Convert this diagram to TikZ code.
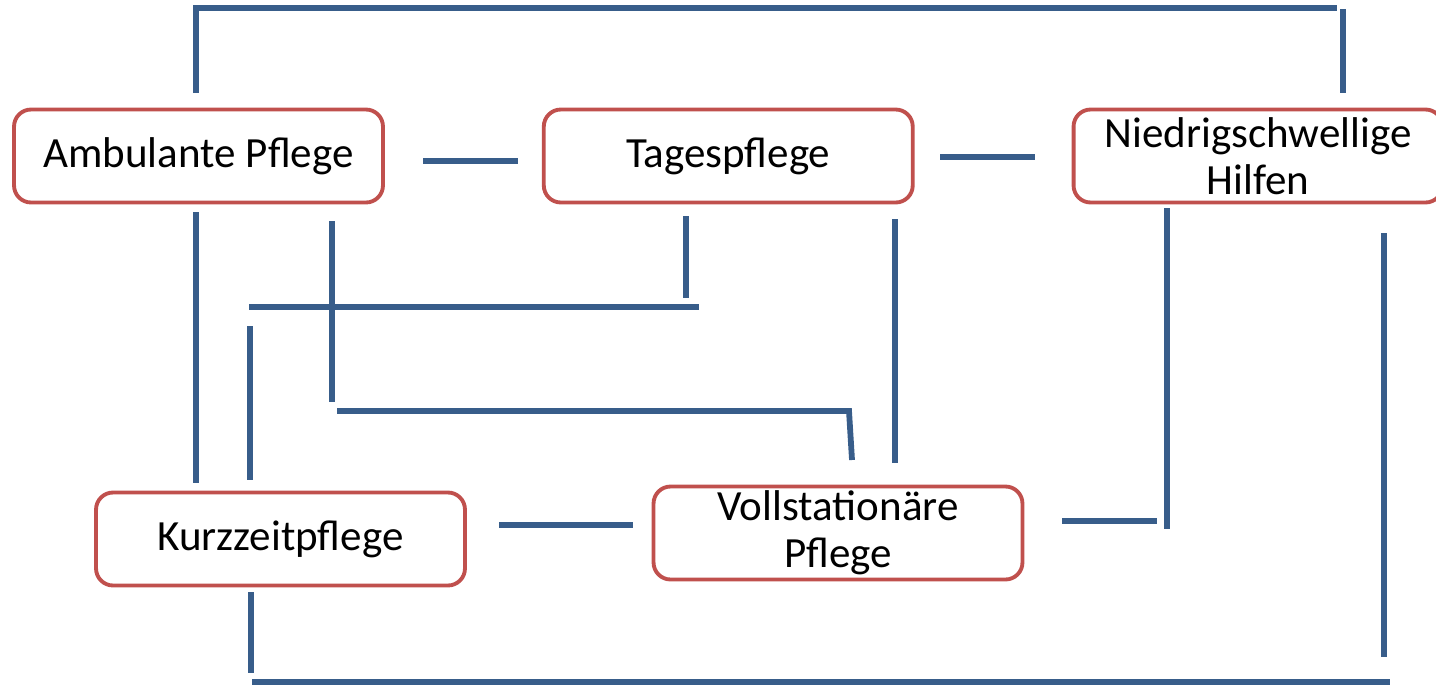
\documentclass[tikz,border=0pt]{standalone}
\usepackage{fontspec}
\setmainfont{Carlito}
\usepackage{xcolor}
\usetikzlibrary{positioning}
\definecolor{linkblue}{RGB}{56,93,138}
\definecolor{boxred}{RGB}{192,80,77}
\tikzset{
	pflege/.style={draw=boxred, line width=2.2pt, rounded corners=0.34cm, fill=white, minimum width=7.38cm, minimum height=1.86cm, align=center, inner sep=0pt, font=\fontsize{24.5}{26.5}\selectfont},
	link/.style={linkblue, line width=3.3pt}
}

\begin{document}
\begin{tikzpicture}[x=0.02cm, y=-0.02cm]
	    		\useasboundingbox (0,0) rectangle (1436,684);
	    		\node[pflege] (amb) at (198.5,156) {Ambulante Pflege};
	    		\node[pflege, right=3.14cm of amb] (tag) {Tagespflege};
	    		\node[pflege, right=3.14cm of tag] (nie) {Niedrigschwellige\\Hilfen};
	    		\node[pflege] (kurz) at (280.5,539) {Kurzzeitpflege};
	    		\node[pflege] (voll) at (838,533) {Vollstationäre\\Pflege};
	    		\draw[link] (196,93)--(196,8)--(1337,8);
	    		\draw[link] (1343,9)--(1343,93);
	    		\draw[link] (423,161)--(518,161);
	    		\draw[link] (940,157)--(1035,157);
	    		\draw[link] (196,212)--(196,483);
	    		\draw[link] (332,221)--(332,402);
	    		\draw[link] (686,216)--(686,298);
	    		\draw[link] (249,307)--(699,307);
	    		\draw[link] (250,326)--(250,480);
	    		\draw[link] (337,411)--(849,411)--(852,460);
	    		\draw[link] (895,219)--(895,463);
	    		\draw[link] (1167,208)--(1167,529);
	    		\draw[link] (1062,521)--(1157,521);
	    		\draw[link] (499,525)--(633,525);
	    		\draw[link] (1384,233)--(1384,657);
	    		\draw[link] (251,592)--(251,673);
	    		\draw[link] (252,682)--(1390,682);
\end{tikzpicture}
\end{document}
